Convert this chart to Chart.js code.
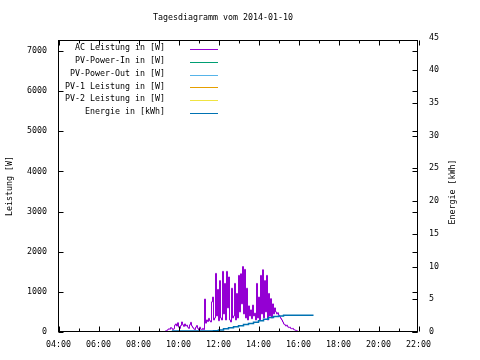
<!DOCTYPE html>
<html>
<head>
<meta charset="utf-8">
<script src="https://cdn.jsdelivr.net/npm/chart.js@4.4.1/dist/chart.umd.min.js"></script>
<style>
  body { margin: 0; background: #fff; }
  canvas { display: block; }
</style>
</head>
<body>
<canvas id="chart" width="480" height="360"></canvas>
<script>
const chartTitle = 'Tagesdiagramm vom 2014-01-10';
const seriesLabels = [
  'AC Leistung in [W]',
  'PV-Power-In in [W]',
  'PV-Power-Out in [W]',
  'PV-1 Leistung in [W]',
  'PV-2 Leistung in [W]',
  'Energie in [kWh]',
];
const seriesColors = ['#9400d3', '#009e73', '#56b4e9', '#e69f00', '#f0e442', '#0072b2'];

const hourTicks = [4, 6, 8, 10, 12, 14, 16, 18, 20, 22];
const leftTicks = [0, 1000, 2000, 3000, 4000, 5000, 6000, 7000];
const rightTicks = [0, 5, 10, 15, 20, 25, 30, 35, 40, 45];

// AC power, one value every 3 minutes starting at 09:21
const powerStart = '09:21';
const powerStepMinutes = 3;
const acPower = [
  20, 30, 40, 60, 80, 70, 110, 90, 60, 80,                // 09:21
  170, 200, 150, 230, 120, 90, 160, 250, 180, 140,        // 09:51
  200, 150, 170, 120, 90, 180, 240, 150, 110, 80,         // 10:21
  60, 120, 160, 90, 50, 120, 70, 60, 90, 60,              // 10:51
  820, 220, 300, 260, 340, 280, 250, 750, 870, 300,       // 11:21
  350, 1460, 400, 1060, 280, 1280, 350, 300, 1510, 450,   // 11:51
  1210, 300, 1510, 600, 1370, 300, 250, 1090, 350, 400,   // 12:21
  1210, 300, 960, 350, 1410, 500, 1450, 700, 1630, 450,   // 12:51
  1560, 350, 1090, 300, 650, 400, 550, 330, 670, 400,     // 13:21
  470, 300, 1210, 350, 870, 300, 1410, 450, 1550, 350,    // 13:51
  1280, 500, 1410, 300, 960, 400, 830, 350, 700, 450,     // 14:21
  600, 500, 450, 480, 420, 380, 340, 300, 250, 200,       // 14:51
  180, 150, 170, 130, 110, 120, 90, 80, 90, 60,           // 15:21
  50, 40, 30, 15, 0,                                      // 15:51
];
const pvPowerIn = [];
const pvPowerOut = [];
const pv1Power = [];
const pv2Power = [];

const energyTimes = [
  '09:40', '11:20', '11:30', '11:45', '12:00', '12:15', '12:30', '12:45', '13:00', '13:15',
  '13:30', '13:45', '14:00', '14:15', '14:30', '14:45', '15:00', '15:15', '15:30', '16:45',
];
const energyValues = [
  0.15, 0.15, 0.15, 0.17, 0.2, 0.3, 0.5, 0.65, 0.8, 0.95,
  1.15, 1.3, 1.5, 1.7, 1.95, 2.2, 2.35, 2.45, 2.55, 2.55,
];

const FONT = { family: 'DejaVu Sans Mono', size: 8.3 };

function toHours(hhmm) {
  const [h, m] = hhmm.split(':').map(Number);
  return h + m / 60;
}

function pad2(n) {
  return String(n).padStart(2, '0');
}

const powerStartHours = toHours(powerStart);
const acPoints = acPower.map((v, i) => ({ x: powerStartHours + (i * powerStepMinutes) / 60, y: v }));
const energyPoints = energyValues.map((v, i) => ({ x: toHours(energyTimes[i]), y: v }));

function lineDataset(index, data, yAxisID, order, width) {
  return {
    label: seriesLabels[index],
    data,
    yAxisID,
    order,
    borderColor: seriesColors[index],
    backgroundColor: seriesColors[index],
    borderWidth: width,
    pointRadius: 0,
    stepped: 'after',
    fill: false,
  };
}

const frameAndKey = {
  id: 'frameAndKey',
  afterDraw(chart) {
    const { ctx, chartArea } = chart;
    const { x, y, y1 } = chart.scales;
    const left = Math.round(chartArea.left) + 0.5;
    const right = Math.round(chartArea.right) - 0.5;
    const top = Math.round(chartArea.top) + 0.5;
    const bottom = Math.round(chartArea.bottom) - 0.5;

    ctx.save();
    ctx.strokeStyle = '#000';
    ctx.lineWidth = 1;
    ctx.strokeRect(left, top, right - left, bottom - top);

    ctx.beginPath();
    for (let h = 4; h <= 22; h += 1) {
      const px = Math.round(x.getPixelForValue(h)) + 0.5;
      const len = h % 2 === 0 ? 5 : 3;
      ctx.moveTo(px, bottom);
      ctx.lineTo(px, bottom - len);
      ctx.moveTo(px, top);
      ctx.lineTo(px, top + len);
    }
    leftTicks.forEach((v) => {
      const py = Math.round(y.getPixelForValue(v)) + 0.5;
      ctx.moveTo(left, py);
      ctx.lineTo(left + 5, py);
      ctx.moveTo(right, py);
      ctx.lineTo(right - 5, py);
    });
    rightTicks.forEach((v) => {
      const py = Math.round(y1.getPixelForValue(v)) + 0.5;
      if (py < top) return;
      ctx.moveTo(right, py);
      ctx.lineTo(right - 5, py);
    });
    ctx.stroke();

    ctx.font = `${FONT.size}px "${FONT.family}"`;
    ctx.fillStyle = '#000';
    ctx.textBaseline = 'middle';

    // title
    ctx.textAlign = 'center';
    ctx.fillText(chartTitle, 223, 18);

    // key, top left inside the plot
    ctx.textAlign = 'right';
    chart.data.datasets.forEach((ds, i) => {
      const rowY = 48 + i * 12.8;
      ctx.fillText(ds.label, 165, rowY);
      ctx.strokeStyle = ds.borderColor;
      ctx.beginPath();
      ctx.moveTo(190, Math.round(rowY + 1) + 0.5);
      ctx.lineTo(218, Math.round(rowY + 1) + 0.5);
      ctx.stroke();
    });

    // right axis title, read bottom to top
    ctx.translate(453, (chartArea.top + chartArea.bottom) / 2 + 6);
    ctx.rotate(-Math.PI / 2);
    ctx.textAlign = 'center';
    ctx.fillText('Energie [kWh]', 0, 0);
    ctx.restore();
  },
};

new Chart(document.getElementById('chart'), {
  type: 'line',
  data: {
    datasets: [
      lineDataset(0, acPoints, 'y', 1, 1),
      lineDataset(1, pvPowerIn, 'y', 1, 1),
      lineDataset(2, pvPowerOut, 'y', 1, 1),
      lineDataset(3, pv1Power, 'y', 1, 1),
      lineDataset(4, pv2Power, 'y', 1, 1),
      lineDataset(5, energyPoints, 'y1', 0, 1.5),
    ],
  },
  options: {
    responsive: false,
    animation: false,
    events: [],
    layout: { padding: { top: 40 } },
    plugins: {
      legend: { display: false },
      tooltip: { enabled: false },
      title: { display: false },
    },
    scales: {
      x: {
        type: 'linear',
        // half-pixel shift keeps the 1px steps crisp
        min: 3.975,
        max: 21.975,
        grid: { display: false, drawTicks: false },
        border: { display: false },
        afterBuildTicks: (scale) => { scale.ticks = hourTicks.map((v) => ({ value: v })); },
        afterFit: (scale) => { scale.height = 28; },
        ticks: {
          color: '#000',
          font: FONT,
          padding: 8,
          maxRotation: 0,
          autoSkip: false,
          callback: (v) => `${pad2(v)}:00`,
        },
      },
      y: {
        position: 'left',
        min: 0,
        max: 7272,
        grid: { display: false, drawTicks: false },
        border: { display: false },
        afterBuildTicks: (scale) => { scale.ticks = leftTicks.map((v) => ({ value: v })); },
        afterFit: (scale) => { scale.width = 58; },
        ticks: { color: '#000', font: FONT, padding: 11, callback: (v) => String(v) },
        title: {
          display: true,
          text: 'Leistung [W]',
          color: '#000',
          font: FONT,
          padding: { top: 5, bottom: 0 },
        },
      },
      y1: {
        position: 'right',
        min: 0,
        max: 44.6,
        grid: { display: false, drawTicks: false },
        border: { display: false },
        afterBuildTicks: (scale) => { scale.ticks = rightTicks.map((v) => ({ value: v })); },
        afterFit: (scale) => { scale.width = 62; },
        ticks: { color: '#000', font: FONT, padding: 11, callback: (v) => String(v) },
      },
    },
  },
  plugins: [frameAndKey],
});
</script>
</body>
</html>
